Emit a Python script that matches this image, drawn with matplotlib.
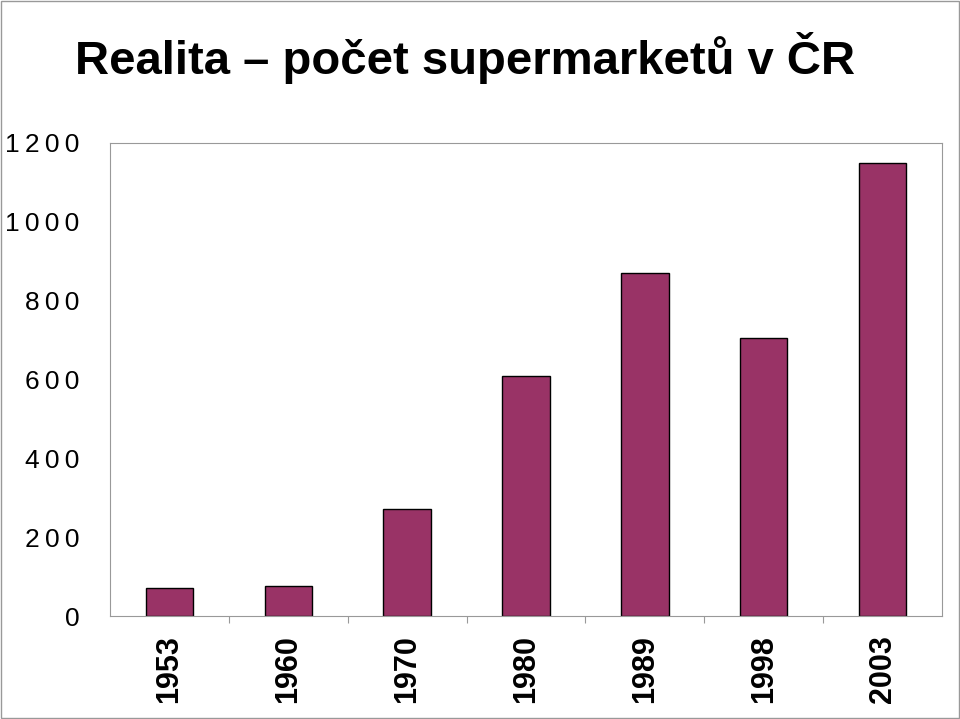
import matplotlib
matplotlib.use("Agg")
import matplotlib.pyplot as plt
from matplotlib.patches import Rectangle

years = ["1953", "1960", "1970", "1980", "1989", "1998", "2003"]
counts = [70, 76, 272, 609, 870, 705, 1150]
yticks = [0, 200, 400, 600, 800, 1000, 1200]

fig = plt.figure(figsize=(9.6, 7.19), dpi=100)
fig.patches.append(Rectangle((0.001, 0.001), 0.998, 0.998, transform=fig.transFigure,
                             fill=False, edgecolor="#999999", lw=1))
ax = fig.add_axes([110/960, 1-616/719, 832/960, 473/719])
x = range(len(years))
ax.bar(x, counts, width=0.4, color="#993366", edgecolor="black", linewidth=1)
ax.set_xlim(-0.5, len(years)-0.5)
ax.set_ylim(0, 1200)
ax.set_yticks(yticks)
ax.set_yticklabels([" ".join(str(v)).replace(" ", "\u2009") for v in yticks],
                   fontsize=19, family="Liberation Sans")
ax.tick_params(axis="y", length=0, pad=22)
ax.set_xticks([i+0.5 for i in range(len(years)-1)], minor=False)
ax.set_xticklabels([])
ax.tick_params(axis="x", length=5, color="#999999")
for i, yr in enumerate(years):
    ax.text(i, -0.04, yr, transform=ax.get_xaxis_transform(), rotation=90,
            ha="center", va="top", fontsize=22, fontweight="bold", family="Liberation Sans")
for s in ["top", "right", "left", "bottom"]:
    ax.spines[s].set_color("#999999")
fig.text(75/960, 1-58/719, "Realita – počet supermarketů v ČR", fontsize=34,
         fontweight="bold", family="Liberation Sans", va="center", ha="left")
fig.savefig("out.png", dpi=100)
